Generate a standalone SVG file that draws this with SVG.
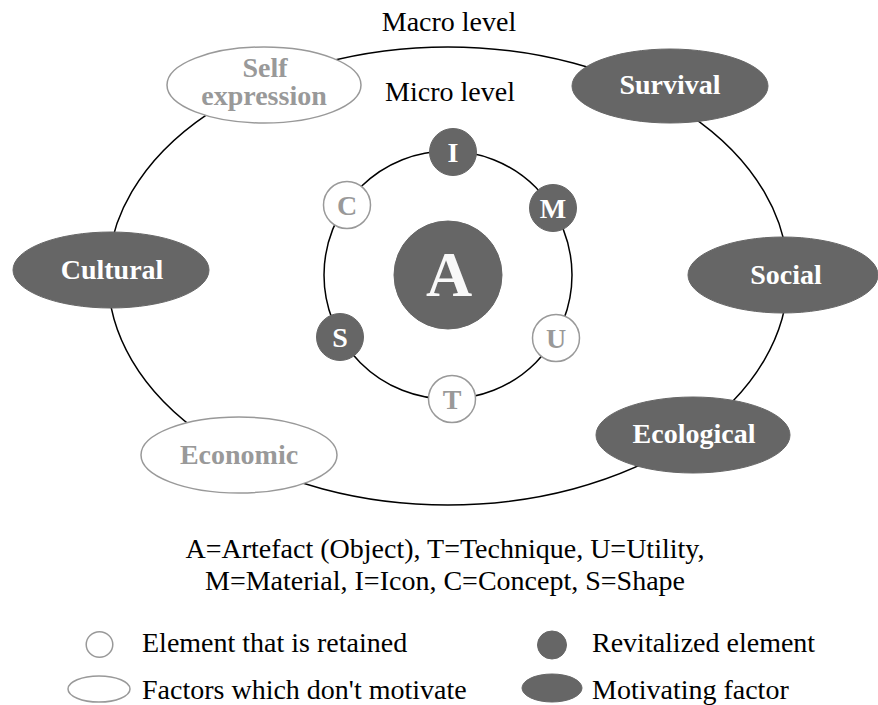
<svg xmlns="http://www.w3.org/2000/svg" width="878" height="705" viewBox="0 0 878 705">
<style>
.ring{fill:none;stroke:#000;stroke-width:1.5}
.dark{fill:#666;stroke:#666;stroke-width:1}
.light{fill:#fff;stroke:#999;stroke-width:1.5}
.lbl{font-size:28px;font-weight:bold}
.let{font-size:28px;font-weight:bold}
.w{fill:#fff}
.g{fill:#999}
.plain{font-size:28px;fill:#000}
.leg{font-size:28px;fill:#000}
</style>
<rect width="878" height="705" fill="#fff"/>
<g id="connectors">
<ellipse class="ring" cx="448" cy="276" rx="340" ry="229"/>
<circle class="ring" cx="448" cy="275" r="124"/>
</g>
<g font-family="Liberation Serif, Tinos, DejaVu Serif, serif" text-anchor="middle">
<text class="plain" x="449" y="31">Macro level</text>
<text class="plain" x="450" y="101">Micro level</text>
<g id="self-expression"><ellipse class="light" cx="264" cy="85" rx="97" ry="38"/><text class="lbl g" x="265" y="77">Self</text><text class="lbl g" x="264" y="105">expression</text></g>
<g id="survival"><ellipse class="dark" cx="670" cy="86" rx="98" ry="37"/><text class="lbl w" x="670" y="94">Survival</text></g>
<g id="cultural"><ellipse class="dark" cx="111" cy="270" rx="98" ry="38"/><text class="lbl w" x="112" y="279">Cultural</text></g>
<g id="social"><ellipse class="dark" cx="783" cy="275" rx="95" ry="38"/><text class="lbl w" x="786" y="284">Social</text></g>
<g id="economic"><ellipse class="light" cx="239" cy="455" rx="98" ry="38"/><text class="lbl g" x="239" y="464">Economic</text></g>
<g id="ecological"><ellipse class="dark" cx="693" cy="435" rx="97" ry="38"/><text class="lbl w" x="694" y="443">Ecological</text></g>
<g id="artefact"><circle class="dark" cx="448" cy="275" r="54"/><text x="449" y="296" font-size="64" font-weight="bold" fill="#f8f8f8">A</text></g>
<g id="icon"><circle class="dark" cx="453" cy="152" r="23.5"/><text class="let w" x="453" y="161.5">I</text></g>
<g id="material"><circle class="dark" cx="553" cy="208" r="23.5"/><text class="let w" x="553" y="217.5">M</text></g>
<g id="concept"><circle class="light" cx="347" cy="205" r="23.5"/><text class="let g" x="347" y="214.5">C</text></g>
<g id="shape"><circle class="dark" cx="340" cy="337" r="23.5"/><text class="let w" x="340" y="346.5">S</text></g>
<g id="utility"><circle class="light" cx="556" cy="338" r="23.5"/><text class="let g" x="556" y="347.5">U</text></g>
<g id="technique"><circle class="light" cx="452" cy="399" r="23.5"/><text class="let g" x="452" y="408.5">T</text></g>
<text class="plain" x="445" y="558">A=Artefact (Object), T=Technique, U=Utility,</text>
<text class="plain" x="445" y="590">M=Material, I=Icon, C=Concept, S=Shape</text>
<g id="legend" text-anchor="start">
<ellipse class="light" cx="99.5" cy="644.5" rx="13.3" ry="12.8"/>
<text class="leg" x="142" y="652">Element that is retained</text>
<ellipse class="light" cx="99" cy="689" rx="31" ry="13"/>
<text class="leg" x="142" y="699">Factors which don't motivate</text>
<ellipse class="dark" cx="552" cy="645" rx="14.5" ry="14"/>
<text class="leg" x="592" y="652">Revitalized element</text>
<ellipse class="dark" cx="552" cy="688" rx="30" ry="14"/>
<text class="leg" x="592" y="699">Motivating factor</text>
</g>
</g>
</svg>
